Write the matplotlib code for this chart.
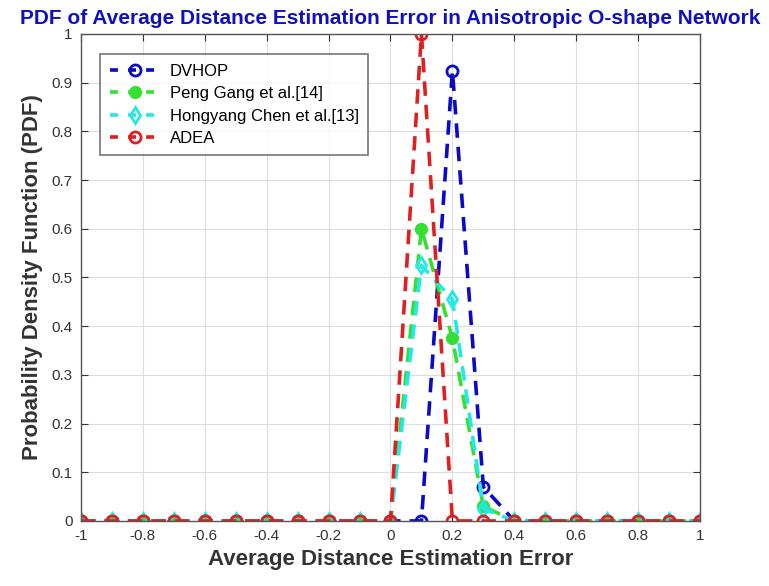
import matplotlib.pyplot as plt
import numpy as np

# error bins and PDF values for each method
error_bins = np.round(np.arange(-1.0, 1.01, 0.1), 1)
dvhop = np.zeros(len(error_bins))
peng_gang = np.zeros(len(error_bins))
hongyang_chen = np.zeros(len(error_bins))
adea = np.zeros(len(error_bins))

dvhop[[12, 13]] = [0.925, 0.07]
peng_gang[[11, 12, 13]] = [0.60, 0.375, 0.03]
hongyang_chen[[11, 12, 13]] = [0.525, 0.455, 0.025]
adea[11] = 1.0

x_ticks = np.round(np.arange(-1.0, 1.01, 0.2), 1)
x_tick_labels = ['-1', '-0.8', '-0.6', '-0.4', '-0.2', '0', '0.2', '0.4', '0.6', '0.8', '1']
y_ticks = np.round(np.arange(0, 1.01, 0.1), 1)
y_tick_labels = ['0', '0.1', '0.2', '0.3', '0.4', '0.5', '0.6', '0.7', '0.8', '0.9', '1']

plt.rcParams['font.family'] = ['Liberation Sans', 'DejaVu Sans']

fig = plt.figure(figsize=(7.69, 5.86), dpi=100)
ax = fig.add_axes([0.1053, 0.111, 0.805, 0.831])

dash = (0, (4, 2.5))
ax.plot(error_bins, dvhop, linestyle=dash, color='#0a0ac8', lw=2.6, marker='o',
        ms=8, mfc='none', mew=2, label='DVHOP')
ax.plot(error_bins, peng_gang, linestyle=dash, color='#33e033', lw=2.6, marker='o',
        ms=8, mfc='#33e033', mew=1.5, label='Peng Gang et al.[14]')
ax.plot(error_bins, hongyang_chen, linestyle=dash, color='#22e8e8', lw=2.6, marker='d',
        ms=8, mfc='none', mew=2, label='Hongyang Chen et al.[13]')
ax.plot(error_bins, adea, linestyle=dash, color='#e02020', lw=2.6, marker='o',
        ms=8, mfc='none', mew=2, label='ADEA')

ax.set_xlim(-1, 1)
ax.set_ylim(0, 1)
ax.set_xticks(x_ticks)
ax.set_xticklabels(x_tick_labels)
ax.set_yticks(y_ticks)
ax.set_yticklabels(y_tick_labels)
ax.tick_params(direction='in', top=True, right=True, labelsize=11,
               colors='#333333', length=5, pad=6)
ax.grid(True, color='#dddddd', lw=0.8)
ax.set_axisbelow(True)
for s in ax.spines.values():
    s.set_color('#555555')
    s.set_linewidth(1)

ax.set_title('PDF of Average Distance Estimation Error in Anisotropic O-shape Network',
             color='#1010c0', fontsize=15, fontweight='bold', pad=7)
ax.set_xlabel('Average Distance Estimation Error', fontsize=16, fontweight='bold',
              color='#333333', labelpad=4)
ax.set_ylabel('Probability Density Function (PDF)', fontsize=16, fontweight='bold',
              color='#333333', labelpad=6)

leg = ax.legend(loc='upper left', bbox_to_anchor=(0.018, 0.975), fontsize=12,
                frameon=True, fancybox=False, edgecolor='#555555',
                handlelength=3.0, handletextpad=0.6, borderpad=0.55,
                labelspacing=0.45)
leg.get_frame().set_linewidth(1.2)
for h in leg.get_lines():
    h.set_linestyle((0, (2.2, 2.8)))

fig.savefig('out.png', dpi=100)
